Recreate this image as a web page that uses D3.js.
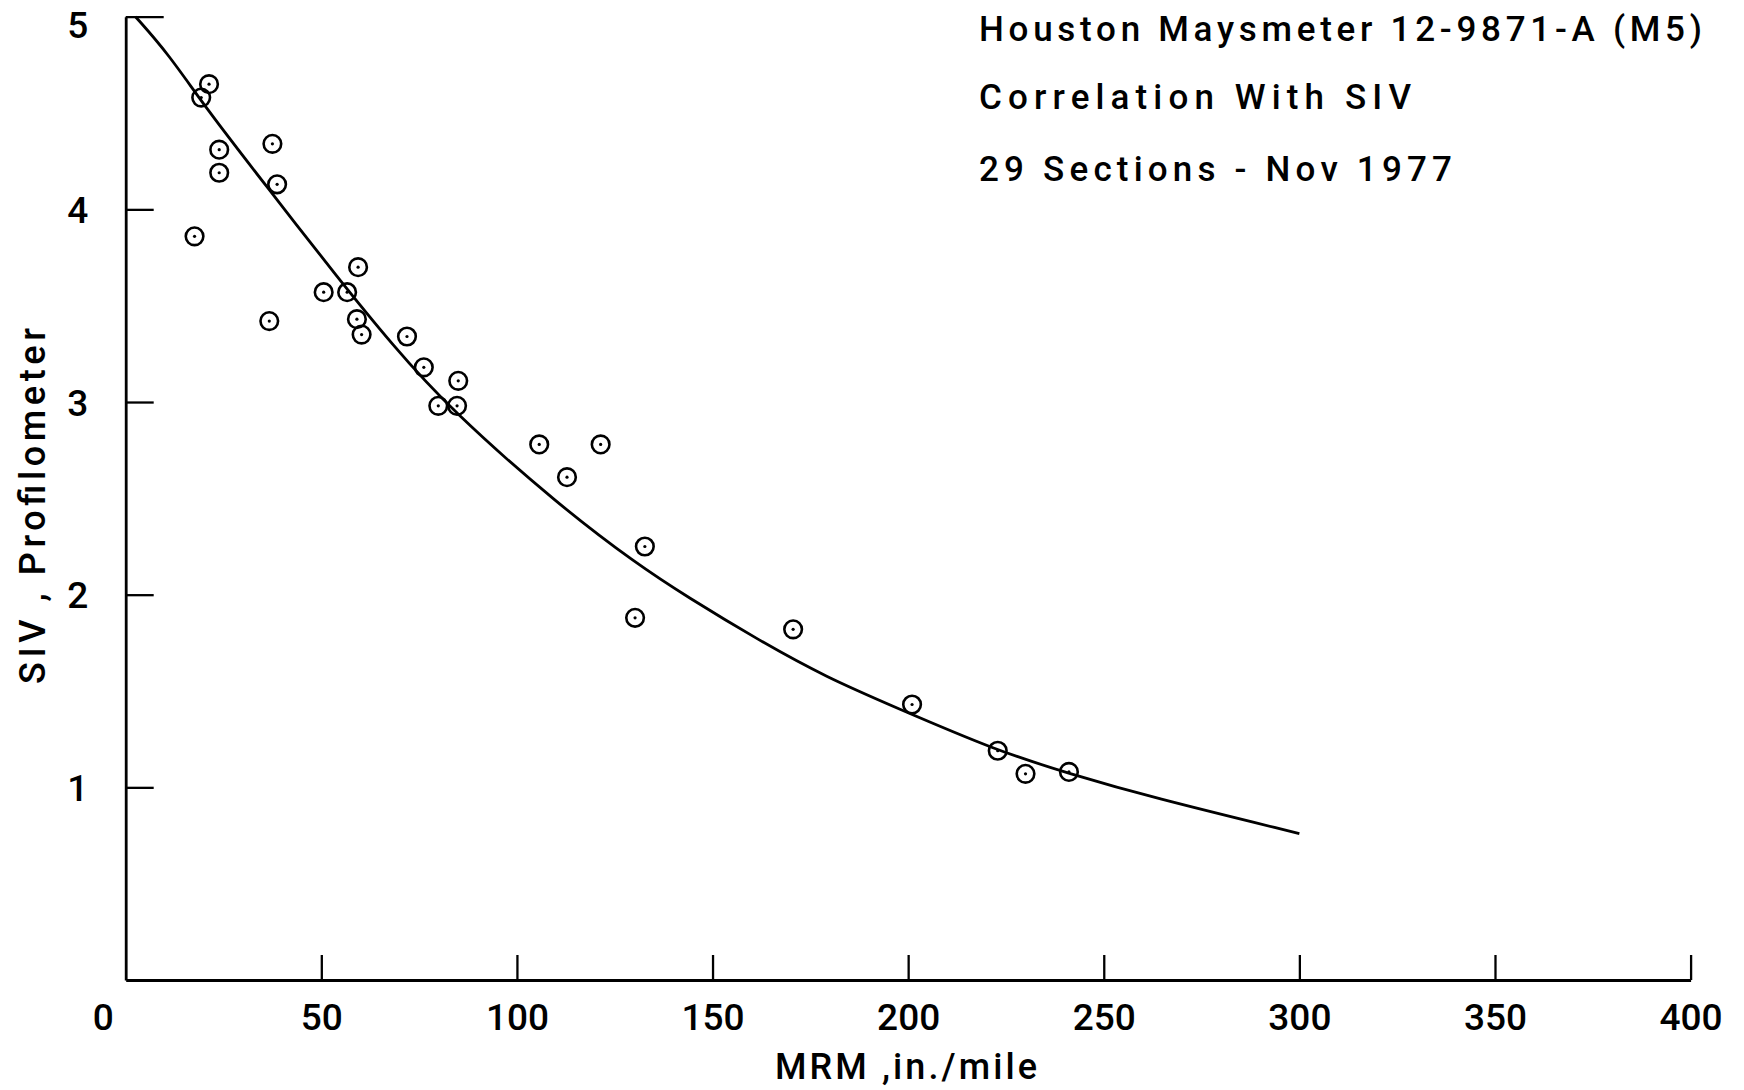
<!DOCTYPE html>
<html>
<head>
<meta charset="utf-8">
<script src="https://cdn.jsdelivr.net/npm/d3@7"></script>
<style>
  body { margin: 0; background: #fff; }
  text { font-family: Roboto, "DejaVu Sans", sans-serif; font-weight: 500; fill: #000; }
</style>
</head>
<body>
<script>
// measured sections: MRM (in./mile) vs SIV
const mrm = [21.3, 19.3, 23.9, 23.9, 37.5, 38.7, 17.6, 36.7, 50.6, 56.6, 59.4, 59.1, 60.3, 71.9,
             76.2, 85.0, 79.9, 84.7, 105.7, 121.4, 112.8, 132.7, 130.2, 170.6, 201.0, 222.9, 230.0, 241.1];
const siv = [4.65, 4.58, 4.31, 4.19, 4.34, 4.13, 3.86, 3.42, 3.57, 3.57, 3.70, 3.43, 3.35, 3.34,
             3.18, 3.11, 2.98, 2.98, 2.78, 2.78, 2.61, 2.25, 1.88, 1.82, 1.43, 1.19, 1.07, 1.08];

// fitted curve as drawn
const curveX = [2.5, 10.8, 20.7, 35.6, 54, 68, 83, 111, 130.6, 143.4, 162.1, 179.2, 196.2, 222.6, 241.4, 261.8, 300];
const curveY = [5.0, 4.81, 4.52, 4.13, 3.65, 3.30, 2.96, 2.46, 2.16, 1.99, 1.76, 1.57, 1.42, 1.19, 1.07, 0.95, 0.76];

const xTicks = [0, 50, 100, 150, 200, 250, 300, 350, 400];
const yTicks = [1, 2, 3, 4, 5];
const titleLines = ["Houston Maysmeter  12-9871-A (M5)", "Correlation  With  SIV", "29 Sections - Nov 1977"];

const width = 1744, height = 1090;
const svg = d3.select("body").append("svg")
    .attr("width", width)
    .attr("height", height);

const x = d3.scaleLinear().domain([0, 400]).range([125.7, 1690.6]);
const y = d3.scaleLinear().domain([0, 5]).range([980, 16.7]);

// x axis
const xAxis = svg.append("g")
    .attr("transform", `translate(0,${y(0)})`)
    .call(d3.axisBottom(x).tickValues(xTicks).tickSizeInner(-25).tickSizeOuter(0));
xAxis.select(".domain").attr("stroke-width", 2.8);
xAxis.selectAll(".tick line").attr("stroke-width", 2.3);
xAxis.selectAll(".tick text").attr("font-size", 37).attr("y", 50).attr("dy", 0);
xAxis.selectAll(".tick").filter(d => d === 0).select("line").remove();
xAxis.selectAll(".tick").filter(d => d === 0).select("text").attr("x", -23);

// y axis
const yAxis = svg.append("g")
    .attr("transform", `translate(${x(0)},0)`)
    .call(d3.axisLeft(y).tickValues(yTicks).tickSizeInner(-28).tickSizeOuter(0)
      .tickFormat(d3.format("d")));
yAxis.select(".domain").attr("stroke-width", 2.8);
yAxis.selectAll(".tick line").attr("stroke-width", 2.3);
yAxis.selectAll(".tick").filter(d => d === 5).select("line").attr("x2", 38);
yAxis.selectAll(".tick text")
    .attr("font-size", 37)
    .attr("text-anchor", "middle")
    .attr("x", -48)
    .attr("dy", 0)
    .attr("y", d => d === 5 ? 20.5 : 13);

// curve
const line = d3.line()
    .x((d, i) => x(curveX[i]))
    .y((d, i) => y(curveY[i]))
    .curve(d3.curveBasis);
svg.append("path")
    .datum(curveX)
    .attr("d", line)
    .attr("fill", "none")
    .attr("stroke", "#000")
    .attr("stroke-width", 2.8);

// points: circle with centre dot
const pts = svg.append("g").selectAll("g")
    .data(mrm)
    .join("g")
    .attr("transform", (d, i) => `translate(${x(d)},${y(siv[i])})`);
pts.append("circle").attr("r", 8.8).attr("fill", "none").attr("stroke", "#000").attr("stroke-width", 2.6);
pts.append("circle").attr("r", 1.6).attr("fill", "#000");

// titles
const titleY = [41, 109, 181];
const titleW = [723, 432, 473];
svg.append("g").selectAll("text")
    .data(titleLines)
    .join("text")
    .attr("x", 979)
    .attr("y", (d, i) => titleY[i])
    .attr("font-size", 35)
    .attr("textLength", (d, i) => titleW[i])
    .attr("lengthAdjust", "spacing")
    .text(d => d);

// axis titles
svg.append("text")
    .attr("x", 775)
    .attr("y", 1079)
    .attr("font-size", 36)
    .attr("textLength", 262)
    .attr("lengthAdjust", "spacing")
    .text("MRM ,in./mile");

svg.append("text")
    .attr("transform", "translate(45,684) rotate(-90)")
    .attr("font-size", 36)
    .attr("textLength", 356)
    .attr("lengthAdjust", "spacing")
    .text("SIV , Profilometer");
</script>
</body>
</html>
